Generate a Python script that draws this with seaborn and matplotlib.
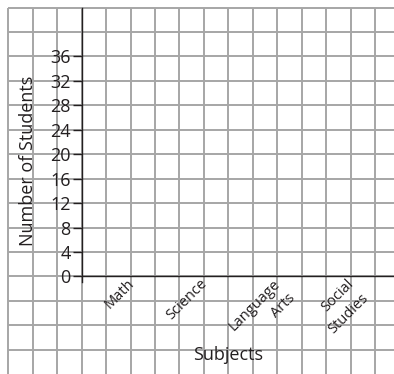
import numpy as np
import pandas as pd
import seaborn as sns
import matplotlib.pyplot as plt
from matplotlib.transforms import ScaledTranslation

# Blank worksheet bar chart: subjects on x, no bars filled in yet
subjects = ['Math', 'Science', 'Language\nArts', 'Social\nStudies']
students = [0, 0, 0, 0]
y_ticks = [0, 4, 8, 12, 16, 20, 24, 28, 32, 36]

INK = '#231f20'
GRID = '#a6a6a6'

sns.set_style('white')
plt.rcParams['font.family'] = ['Open Sans', 'DejaVu Sans']

df = pd.DataFrame({'Subject': subjects, 'Students': students})

fig = plt.figure(figsize=(3.94, 3.74), dpi=100)
ax = fig.add_axes([0, 0, 1, 1])
ax.set_facecolor('none')

sns.barplot(data=df, x='Subject', y='Students', color='#4a7ebb', linewidth=0, ax=ax)

# axis ranges: 3 grid cells per subject, 1 grid cell = 4 students
ax.set_xlim(-1.7798, 3.5917)
ax.set_ylim(-15.96, 45.23)

# graph-paper grid
cols = (np.arange(16) - 5) / 3
rows = 44 - 4 * np.arange(15)
ax.vlines(cols, -16.5, 44, color=GRID, lw=1.4, zorder=0)
ax.hlines(rows, -5 / 3, 3.7, color=GRID, lw=1.4, zorder=0)

for side in ['top', 'right']:
    ax.spines[side].set_visible(False)
ax.spines['left'].set_position(('data', -2 / 3))
ax.spines['left'].set_bounds(-0.9, 44)
ax.spines['bottom'].set_position(('data', 0))
ax.spines['bottom'].set_bounds(-2 / 3, 3.7)
for side in ['left', 'bottom']:
    ax.spines[side].set_color(INK)
    ax.spines[side].set_linewidth(1.0)
    ax.spines[side].set_zorder(3)

ax.set_yticks(y_ticks)
ax.tick_params(axis='y', left=True, direction='out', length=6.5, width=1.0, color=INK,
               pad=1.5, labelsize=13, labelcolor=INK)
ax.tick_params(axis='x', bottom=False, length=0, pad=0, labelsize=10.5, labelcolor=INK)
ax.set_xticks(range(len(subjects)))
ax.set_xticklabels(subjects, rotation=45, ha='right', rotation_mode='anchor')
# nudge the slanted labels so they start right under the axis
shift = ScaledTranslation(-4 / 100, 0, fig.dpi_scale_trans)
for lab in ax.get_xticklabels():
    lab.set_linespacing(1.45)
    lab.set_transform(lab.get_transform() + shift)

ax.set_xlabel('Subjects', fontsize=13, color=INK)
ax.xaxis.set_label_coords(1.325, -11.3, transform=ax.transData)
ax.set_ylabel('Number of Students', fontsize=13, color=INK)
ax.yaxis.set_label_coords(-1.275, 18.9, transform=ax.transData)

fig.savefig('out.png', dpi=100, facecolor='white')
